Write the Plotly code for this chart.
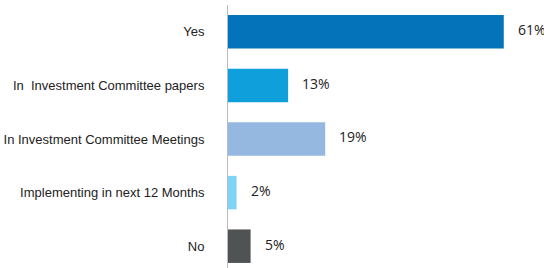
import plotly.graph_objects as go

categories = ["Yes", "In  Investment Committee papers", "In Investment Committee Meetings",
              "Implementing in next 12 Months", "No"]
# bar lengths as drawn in the picture (percent)
values = [61, 13.3, 21.5, 1.9, 5.0]
# value labels as printed in the picture
labels = ["61%", "13%", "19%", "2%", "5%"]
colors = ["#0573BA", "#0FA0DB", "#94B8E0", "#7DD4F5", "#4F5354"]

fig = go.Figure(go.Bar(
    y=categories, x=values, orientation="h",
    marker=dict(color=colors, line=dict(width=0)),
    hoverinfo="skip",
))

for c, v, t in zip(categories, values, labels):
    fig.add_annotation(x=v, y=c, text=t, showarrow=False, xanchor="left",
                       xshift=12, yshift=2,
                       font=dict(family="Open Sans", size=14, color="#222222"))

fig.update_layout(
    width=544, height=268,
    margin=dict(l=228, r=0, t=5, b=0),
    paper_bgcolor="white", plot_bgcolor="white",
    bargap=0.375, showlegend=False,
    font=dict(family="Liberation Sans", size=13, color="#222222"),
)
fig.update_xaxes(range=[0, 69.9], visible=False, showgrid=False, zeroline=False)
fig.update_yaxes(categoryorder="array", categoryarray=categories,
                 range=[4.407, -0.5], showgrid=False, zeroline=False,
                 showline=True, linecolor="#BBBBBB", linewidth=1,
                 ticks="", ticklabelstandoff=20, automargin=False)

fig.write_html("out.html", config={"displayModeBar": False, "staticPlot": True},
               post_script="document.body.style.margin='0';document.body.style.overflow='hidden';")
